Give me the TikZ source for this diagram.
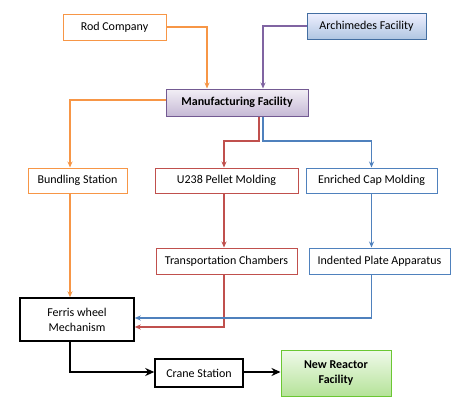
\documentclass[tikz,border=0pt]{standalone}
\usepackage{fontspec}
\setmainfont{Carlito}
\usetikzlibrary{arrows.meta}
\definecolor{orng}{HTML}{F79646}
\definecolor{rd}{HTML}{C0504D}
\definecolor{bl}{HTML}{4F81BD}
\definecolor{purp}{HTML}{8064A2}
\tikzset{
  box/.style={draw,line width=1pt,fill=white,minimum height=25pt,inner sep=2pt,font=\fontsize{12}{15}\selectfont,align=center},
  flow/.style={line width=1.4pt,-{Stealth[length=6pt,width=5pt]}},
  bigflow/.style={line width=2.4pt,black,-{Stealth[length=9pt,width=8pt]}}
}
\begin{document}
\begin{tikzpicture}[x=1pt,y=-1pt]
    \useasboundingbox[fill=white] (0,0) rectangle (464,418);
    % top row
    \node[box,draw=orng,minimum width=103pt,minimum height=26pt] (rod) at (114.5,27) {Rod Company};
    \node[box,draw=bl!85!black,top color=blue!6,bottom color=bl!45,minimum width=119pt,minimum height=26pt] (arch) at (366.5,26) {Archimedes Facility};
    \node[box,draw=purp!90!black,top color=purp!10,bottom color=purp!45,minimum width=142pt,minimum height=27pt,font=\fontsize{12}{15}\selectfont\bfseries] (manu) at (237,102.5) {Manufacturing Facility};
    % middle rows
    \node[box,draw=orng,minimum width=99pt] (bund) at (77.5,180.5) {Bundling Station};
    \node[box,draw=rd,minimum width=143pt] (pellet) at (226.5,180.5) {U238 Pellet Molding};
    \node[box,draw=bl,minimum width=131pt] (cap) at (371.5,180.5) {Enriched Cap Molding};
    \node[box,draw=rd,minimum width=141pt,minimum height=26pt] (trans) at (226.5,261) {Transportation Chambers};
    \node[box,draw=bl,minimum width=141pt,minimum height=26pt] (plate) at (379.5,261) {Indented Plate Apparatus};
    % bottom row
    \node[box,draw=black,line width=1.5pt,minimum width=114pt,minimum height=43pt] (ferris) at (77,319.5) {Ferris wheel\\Mechanism};
    \node[box,draw=black,line width=1.5pt,minimum width=88pt,minimum height=28pt] (crane) at (199,373) {Crane Station};
    \node[box,draw=green!45!olive!80,top color=green!45!olive!8,bottom color=green!45!olive!40,minimum width=110pt,minimum height=46pt,font=\fontsize{12}{15}\selectfont\bfseries] (reactor) at (336,373) {New Reactor\\Facility};
    % supplies into manufacturing
    \draw[flow,orng] (rod.east) -| ([xshift=-30pt]manu.north);
    \draw[flow,purp] (arch.west) -| ([xshift=26pt]manu.north);
    % branches out of manufacturing
    \draw[flow,orng] ([yshift=2.5pt]manu.west) -| ([xshift=-7.5pt]bund.north);
    \draw[flow,rd] ([xshift=22pt]manu.south) |- (237,141) -| ([xshift=-2.5pt]pellet.north);
    \draw[flow,bl] ([xshift=26pt]manu.south) |- (300,141) -| (cap.north);
    \draw[flow,rd] ([xshift=-2.5pt]pellet.south) -- ([xshift=-2.5pt]trans.north);
    \draw[flow,bl] (cap.south) -- (cap.south |- plate.north);
    % into the ferris wheel
    \draw[flow,orng] ([xshift=-7.5pt]bund.south) -- ([xshift=-7pt]ferris.north);
    \draw[flow,rd] ([xshift=-2.5pt]trans.south) |- ([yshift=-7.5pt]ferris.east);
    \draw[flow,bl] (cap.south |- plate.south) |- ([yshift=1.5pt]ferris.east);
    % out to the reactor
    \draw[bigflow] ([xshift=-7pt]ferris.south) |- ([yshift=1pt]crane.west);
    \draw[bigflow] ([yshift=1pt]crane.east) -- ([yshift=1pt]reactor.west);
\end{tikzpicture}
\end{document}
